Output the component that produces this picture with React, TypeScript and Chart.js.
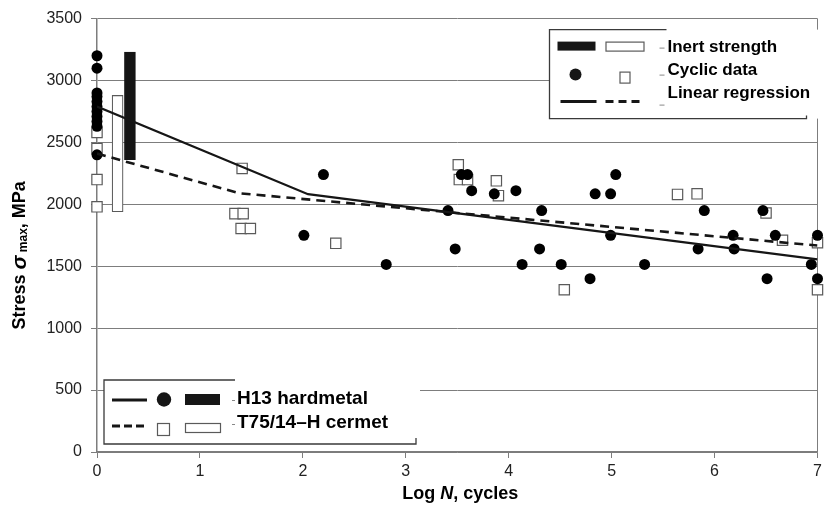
import React, { useEffect, useRef } from 'react';
import { Chart, registerables } from 'chart.js';

Chart.register(...registerables);

// ---------- data ----------
const xTicks = [0, 1, 2, 3, 4, 5, 6, 7];
const yTicks = [0, 500, 1000, 1500, 2000, 2500, 3000, 3500];

const h13CyclicX = [0, 0, 0, 0, 0, 0, 0, 0, 0, 0, 0, 2.01, 2.2, 2.81, 3.41, 3.48, 3.54, 3.6, 3.64, 3.86, 4.07, 4.13, 4.3, 4.32, 4.51, 4.79, 4.84, 4.99, 4.99, 5.04, 5.32, 5.84, 5.9, 6.18, 6.19, 6.47, 6.51, 6.59, 6.94, 7.0, 7.0];
const h13CyclicY = [3200, 3100, 2900, 2870, 2830, 2790, 2750, 2710, 2670, 2630, 2400, 1750, 2240, 1515, 1950, 1640, 2240, 2240, 2110, 2085, 2110, 1515, 1640, 1950, 1515, 1400, 2085, 2085, 1750, 2240, 1515, 1640, 1950, 1750, 1640, 1950, 1400, 1750, 1515, 1750, 1400];

const cermetCyclicX = [0, 0, 0, 0, 1.41, 1.34, 1.42, 1.4, 1.49, 2.32, 3.51, 3.52, 3.6, 3.88, 3.9, 4.54, 5.64, 5.83, 6.5, 6.66, 7.0, 7.0];
const cermetCyclicY = [2580, 2450, 2200, 1980, 2290, 1925, 1925, 1805, 1805, 1685, 2320, 2200, 2200, 2190, 2070, 1310, 2080, 2085, 1930, 1710, 1690, 1310];

const h13RegX = [0, 2.05, 7];
const h13RegY = [2790, 2082, 1555];
const cermetRegX = [0, 1.38, 7];
const cermetRegY = [2410, 2090, 1667];

const inertX = [0.2, 0.32];
const inertLow = [1940, 2360];
const inertHigh = [2880, 3230];

const legendTopLabels = ['Inert strength', 'Cyclic data', 'Linear regression'];
const legendBottomLabels = ['H13 hardmetal', 'T75/14\u2013H cermet'];

// ---------- styles ----------
const GRID = '#7d7d7d';
const INK = '#161616';
const SQ = '#5a5a5a';
const FONT = '"Liberation Sans", Arial, sans-serif';

const zip = (xs: number[], ys: number[]) => xs.map((x, i) => ({ x, y: ys[i] }));

function drawSegments(ctx: CanvasRenderingContext2D, segs: { t: string; f: string; dy?: number }[], cx: number, cy: number) {
  let total = 0;
  const widths = segs.map(s => { ctx.font = s.f; const w = ctx.measureText(s.t).width; total += w; return w; });
  let x = cx - total / 2;
  ctx.textAlign = 'left';
  ctx.textBaseline = 'middle';
  segs.forEach((s, i) => {
    ctx.font = s.f;
    ctx.fillText(s.t, x, cy + (s.dy || 0));
    x += widths[i];
  });
}

const overlay = {
  id: 'overlay',
  beforeDatasetsDraw(chart: any) {
    const { ctx, chartArea: a } = chart;
    ctx.save();
    ctx.strokeStyle = GRID;
    ctx.lineWidth = 1;
    ctx.beginPath();
    ctx.moveTo(Math.round(a.right) - 0.5, a.top);
    ctx.lineTo(Math.round(a.right) - 0.5, a.bottom);
    ctx.stroke();
    ctx.restore();
  },
  afterDraw(chart: any) {
    const { ctx, chartArea: a } = chart;
    ctx.save();

    // ---- top-right legend ----
    const bx = a.right - 268, by = a.top + 11, bw = 270, bh = 89;
    ctx.fillStyle = '#fff';
    ctx.fillRect(bx, by, bw, bh);
    ctx.strokeStyle = '#3a3a3a';
    ctx.lineWidth = 1.3;
    ctx.beginPath();
    ctx.moveTo(bx + 117, by); ctx.lineTo(bx, by); ctx.lineTo(bx, by + bh); ctx.lineTo(bx + 257, by + bh); ctx.lineTo(bx + 257, by + bh - 3);
    ctx.stroke();
    // row 1
    ctx.fillStyle = INK;
    ctx.fillRect(bx + 8, by + 12, 38, 9);
    ctx.strokeStyle = SQ; ctx.lineWidth = 1.2;
    ctx.strokeRect(bx + 56.5, by + 12.5, 38, 9);
    // row 2
    ctx.fillStyle = INK;
    ctx.beginPath(); ctx.arc(bx + 26, by + 45, 6, 0, Math.PI * 2); ctx.fill();
    ctx.fillStyle = '#fff';
    ctx.fillRect(bx + 70, by + 42, 10, 11);
    ctx.strokeRect(bx + 70.5, by + 42.5, 10, 11);
    // row 3
    ctx.strokeStyle = INK; ctx.lineWidth = 3;
    ctx.beginPath(); ctx.moveTo(bx + 11, by + 72); ctx.lineTo(bx + 47, by + 72); ctx.stroke();
    ctx.setLineDash([8, 5]);
    ctx.beginPath(); ctx.moveTo(bx + 56, by + 72); ctx.lineTo(bx + 90, by + 72); ctx.stroke();
    ctx.setLineDash([]);
    // small dashes
    ctx.strokeStyle = '#888'; ctx.lineWidth = 1;
    [18, 45, 75].forEach(dy => { ctx.beginPath(); ctx.moveTo(bx + 110, by + dy + 0.5); ctx.lineTo(bx + 115, by + dy + 0.5); ctx.stroke(); });
    ctx.fillStyle = '#000';
    ctx.font = 'bold 17px ' + FONT;
    ctx.textAlign = 'left'; ctx.textBaseline = 'middle';
    legendTopLabels.forEach((t, i) => ctx.fillText(t, bx + 118, by + 18 + i * 23));

    // ---- bottom-left legend ----
    const cx = a.left + 7, cy = a.bottom - 72, cw = 312, ch = 64;
    ctx.fillStyle = '#fff';
    ctx.fillRect(cx, cy, cw + 4, ch);
    ctx.strokeStyle = '#3a3a3a'; ctx.lineWidth = 1.3;
    ctx.beginPath();
    ctx.moveTo(cx + 131, cy); ctx.lineTo(cx, cy); ctx.lineTo(cx, cy + ch); ctx.lineTo(cx + cw, cy + ch); ctx.lineTo(cx + cw, cy + ch - 6);
    ctx.stroke();
    ctx.strokeStyle = INK; ctx.lineWidth = 3;
    ctx.beginPath(); ctx.moveTo(cx + 8, cy + 20); ctx.lineTo(cx + 43, cy + 20); ctx.stroke();
    ctx.setLineDash([8, 4]);
    ctx.beginPath(); ctx.moveTo(cx + 8, cy + 46); ctx.lineTo(cx + 43, cy + 46); ctx.stroke();
    ctx.setLineDash([]);
    ctx.fillStyle = INK;
    ctx.beginPath(); ctx.arc(cx + 60, cy + 19.5, 7.2, 0, Math.PI * 2); ctx.fill();
    ctx.fillRect(cx + 81, cy + 14, 35, 11);
    ctx.fillStyle = '#fff';
    ctx.strokeStyle = SQ; ctx.lineWidth = 1.2;
    ctx.strokeRect(cx + 53.5, cy + 43.5, 12, 12);
    ctx.strokeRect(cx + 81.5, cy + 43.5, 35, 9);
    ctx.strokeStyle = '#888'; ctx.lineWidth = 1;
    [20, 44].forEach(dy => { ctx.beginPath(); ctx.moveTo(cx + 128, cy + dy + 0.5); ctx.lineTo(cx + 131, cy + dy + 0.5); ctx.stroke(); });
    ctx.fillStyle = '#000';
    ctx.font = 'bold 19px ' + FONT;
    ctx.textAlign = 'left'; ctx.textBaseline = 'middle';
    legendBottomLabels.forEach((t, i) => ctx.fillText(t, cx + 133, cy + 19 + i * 24));

    // ---- axis titles ----
    ctx.fillStyle = '#000';
    drawSegments(ctx, [
      { t: 'Log ', f: 'bold 18px ' + FONT },
      { t: 'N', f: 'italic bold 18px ' + FONT },
      { t: ', cycles', f: 'bold 18px ' + FONT },
    ], (a.left + a.right) / 2 + 3, a.bottom + 42);

    ctx.save();
    ctx.translate(20, (a.top + a.bottom) / 2 + 20);
    ctx.rotate(-Math.PI / 2);
    drawSegments(ctx, [
      { t: 'Stress ', f: 'bold 18px ' + FONT },
      { t: '\u03c3', f: 'italic bold 21px ' + FONT },
      { t: ' max', f: 'bold 12px ' + FONT, dy: 4 },
      { t: ', MPa', f: 'bold 18px ' + FONT },
    ], 0, 0);
    ctx.restore();

    ctx.restore();
  },
};

export default function App() {
  const ref = useRef<HTMLCanvasElement | null>(null);

  useEffect(() => {
    document.body.style.margin = '0';
    const canvas = ref.current;
    if (!canvas) return;
    const chart = new Chart(canvas, {
      type: 'scatter',
      data: {
        datasets: [
          {
            type: 'line',
            label: 'H13 regression',
            data: zip(h13RegX, h13RegY),
            borderColor: INK,
            borderWidth: 2.2,
            pointRadius: 0,
            tension: 0,
            fill: false,
          } as any,
          {
            type: 'line',
            label: 'Cermet regression',
            data: zip(cermetRegX, cermetRegY),
            borderColor: INK,
            borderWidth: 2.6,
            borderDash: [9, 6],
            pointRadius: 0,
            tension: 0,
            fill: false,
          } as any,
          {
            type: 'scatter',
            label: 'H13 cyclic',
            data: zip(h13CyclicX, h13CyclicY),
            pointStyle: 'circle',
            pointRadius: 5.5,
            backgroundColor: '#000',
            borderWidth: 0,
            clip: false,
          } as any,
          {
            type: 'scatter',
            label: 'Cermet cyclic',
            data: zip(cermetCyclicX, cermetCyclicY),
            pointStyle: 'rect',
            pointRadius: 7.3,
            backgroundColor: '#fff',
            borderColor: SQ,
            borderWidth: 1.2,
            clip: false,
          } as any,
          {
            type: 'bar',
            label: 'Inert strength',
            data: inertX.map((x, i) => ({ x, y: [inertLow[i], inertHigh[i]] })),
            backgroundColor: ['#ffffff', '#151515'],
            borderColor: [SQ, '#151515'],
            borderWidth: 1.2,
            borderSkipped: false,
            barThickness: 11,
          } as any,
        ],
      },
      options: {
        animation: false,
        responsive: false,
        maintainAspectRatio: false,
        layout: { padding: { top: 16, right: 8, left: 0, bottom: 0 } },
        plugins: { legend: { display: false }, tooltip: { enabled: false } },
        scales: {
          x: {
            type: 'linear',
            min: 0,
            max: 7,
            offset: false,
            afterBuildTicks: (s: any) => { s.ticks = xTicks.map(v => ({ value: v })); },
            afterFit: (s: any) => { s.height = 59; },
            ticks: { color: '#222', font: { family: FONT, size: 16 }, padding: 4, maxRotation: 0, callback: (v: any) => String(v) },
            grid: { display: true, drawOnChartArea: false, drawTicks: true, tickLength: 6, color: GRID, offset: false },
            border: { display: true, color: GRID, width: 1.5 },
          },
          y: {
            type: 'linear',
            min: 0,
            max: 3500,
            afterBuildTicks: (s: any) => { s.ticks = yTicks.map(v => ({ value: v })); },
            afterFit: (s: any) => { s.width = 97; },
            ticks: { color: '#222', font: { family: FONT, size: 16 }, padding: 9, callback: (v: any) => String(v) },
            grid: { display: true, drawOnChartArea: true, drawTicks: true, tickLength: 6, color: GRID, lineWidth: 1 },
            border: { display: true, color: GRID, width: 1.5 },
          },
        },
      } as any,
      plugins: [overlay],
    });
    return () => chart.destroy();
  }, []);

  return (
    <div style={{ position: 'absolute', left: 0, top: 0, width: 826, height: 511 }}>
      <canvas ref={ref} width={826} height={511} style={{ width: 826, height: 511 }} />
    </div>
  );
}
